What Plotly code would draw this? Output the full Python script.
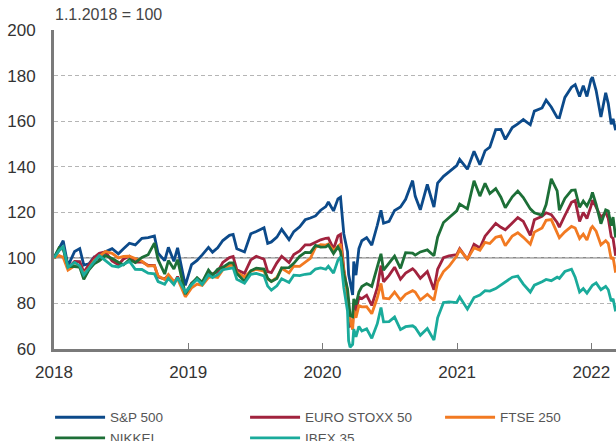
import plotly.graph_objects as go

DATES = [
    "2018-01-01", "2018-01-15", "2018-01-26", "2018-02-08", "2018-02-26", "2018-03-12", "2018-03-23",
    "2018-04-06", "2018-04-20", "2018-05-04", "2018-05-21", "2018-06-08", "2018-06-25", "2018-07-09",
    "2018-07-25", "2018-08-10", "2018-08-28", "2018-09-14", "2018-10-01", "2018-10-11", "2018-10-29",
    "2018-11-08", "2018-11-23", "2018-12-03", "2018-12-24",
    "2019-01-10", "2019-01-25", "2019-02-08", "2019-02-25", "2019-03-08", "2019-03-22", "2019-04-05",
    "2019-04-23", "2019-05-03", "2019-05-13", "2019-06-03", "2019-06-20", "2019-07-05", "2019-07-26",
    "2019-08-05", "2019-08-15", "2019-08-30", "2019-09-12", "2019-10-02", "2019-10-15", "2019-10-31",
    "2019-11-15", "2019-11-29", "2019-12-13", "2019-12-27",
    "2020-01-10", "2020-01-17", "2020-01-31", "2020-02-12", "2020-02-19", "2020-02-28", "2020-03-09",
    "2020-03-12", "2020-03-16", "2020-03-23", "2020-03-26", "2020-04-01", "2020-04-09", "2020-04-17",
    "2020-04-30", "2020-05-14", "2020-05-29", "2020-06-08", "2020-06-15", "2020-06-30", "2020-07-15",
    "2020-07-31", "2020-08-14", "2020-09-02", "2020-09-09", "2020-09-23", "2020-10-12", "2020-10-30",
    "2020-11-09", "2020-11-25", "2020-12-10", "2020-12-31",
    "2021-01-08", "2021-01-29", "2021-02-16", "2021-03-04", "2021-03-18", "2021-03-31", "2021-04-16",
    "2021-04-30", "2021-05-12", "2021-05-31", "2021-06-15", "2021-06-30", "2021-07-19", "2021-07-30",
    "2021-08-20", "2021-08-31", "2021-09-14", "2021-09-30", "2021-10-06", "2021-10-21", "2021-11-08",
    "2021-11-18", "2021-11-30", "2021-12-10", "2021-12-20", "2021-12-31",
    "2022-01-04", "2022-01-14", "2022-01-27", "2022-02-09", "2022-02-16", "2022-02-24", "2022-03-01",
    "2022-03-08",
]

SP500 = [
    100, 104.2, 107.5, 96.5, 102.8, 104.1, 96.8, 97.4, 100.3, 99.6, 102.7, 104.0, 101.8, 104.0, 106.4,
    105.7, 108.6, 108.9, 109.6, 102.0, 98.8, 104.6, 98.5, 104.4, 87.9,
    97.0, 98.9, 101.3, 104.6, 102.5, 104.4, 107.6, 109.9, 110.3, 104.0, 102.6, 110.6, 111.6, 113.2,
    106.4, 107.0, 109.1, 112.5, 108.0, 111.5, 113.6, 116.7, 117.5, 118.4, 120.9,
    122.5, 124.5, 120.6, 125.9, 126.6, 110.5, 102.7, 92.8, 89.2, 83.7, 98.4, 92.4, 104.1, 107.5, 108.9,
    105.6, 114.3, 120.9, 115.2, 116.0, 120.8, 122.3, 125.7, 133.9, 127.1, 121.1, 132.2, 122.3, 132.8,
    135.8, 137.7, 140.5,
    143.2, 138.9, 146.8, 140.9, 147.0, 148.6, 156.3, 156.4, 152.0, 157.2, 158.8, 160.7, 158.4, 164.4,
    165.8, 169.2, 166.2, 161.6, 161.5, 170.4, 174.9, 176.0, 170.8, 175.6, 170.8, 178.3,
    179.3, 173.4, 161.8, 172.4, 167.7, 158.6, 161.0, 156.0,
]

EUROSTOXX50 = [
    100, 103.4, 104.5, 95.5, 98.4, 98.3, 93.8, 97.0, 100.2, 102.0, 102.6, 98.6, 97.0, 99.5, 100.7,
    98.2, 98.3, 96.7, 96.7, 91.6, 90.7, 92.4, 88.6, 91.8, 84.2,
    88.9, 90.8, 88.8, 93.1, 93.0, 93.9, 98.0, 100.1, 100.6, 94.8, 93.2, 99.1, 100.7, 99.4,
    94.0, 93.5, 97.8, 100.7, 97.9, 101.5, 103.0, 105.7, 105.7, 106.9, 107.9,
    108.6, 108.7, 103.9, 109.6, 110.3, 95.0, 84.5, 72.7, 70.1, 70.9, 79.9, 76.5, 82.7, 82.1, 83.6,
    79.1, 86.9, 96.6, 89.5, 92.3, 95.9, 90.6, 93.3, 95.2, 94.2, 91.0, 94.0, 86.0, 95.0,
    100.1, 100.9, 101.4,
    104.0, 99.3, 105.9, 104.3, 109.5, 111.8, 115.1, 113.4, 112.3, 115.3, 117.7, 116.0, 109.9, 116.7,
    118.2, 119.8, 119.0, 115.5, 113.5, 118.6, 124.4, 125.2, 116.0, 119.9, 117.3, 122.7,
    125.3, 122.3, 117.8, 119.9, 117.3, 109.3, 108.5, 100.9,
]

FTSE250 = [
    100, 101.0, 100.2, 94.6, 96.5, 95.9, 93.0, 95.4, 98.8, 100.7, 102.8, 102.0, 100.0, 100.6, 100.7,
    99.7, 98.5, 96.4, 96.6, 92.1, 90.5, 92.7, 89.7, 90.8, 82.9,
    86.8, 88.5, 87.9, 91.3, 91.8, 91.4, 94.8, 96.6, 97.0, 93.7, 91.6, 94.2, 94.9, 94.2,
    90.7, 89.7, 91.4, 95.4, 93.4, 96.4, 96.3, 98.0, 99.8, 104.6, 105.8,
    105.6, 106.1, 103.3, 105.3, 106.1, 94.4, 84.0, 75.3, 72.8, 68.5, 77.0, 73.7, 79.0, 78.5, 78.6,
    75.5, 82.5, 88.8, 82.3, 82.0, 85.0, 81.5, 84.0, 85.6, 85.0, 81.5, 84.0, 81.4, 89.4,
    94.0, 96.3, 100.8,
    103.6, 99.5, 104.4, 103.3, 106.8, 106.3, 109.0, 109.6, 105.3, 109.6, 111.0, 109.0, 106.0, 111.3,
    113.1, 116.5, 116.8, 110.8, 108.8, 111.4, 113.8, 113.1, 108.5, 110.4, 107.8, 113.0,
    113.8, 111.7, 105.7, 107.5, 106.3, 99.5, 100.3, 93.5,
]

NIKKEI = [
    100, 104.5, 103.9, 96.2, 96.2, 95.9, 90.6, 94.7, 97.4, 98.7, 101.0, 99.7, 98.1, 96.9, 99.3,
    97.9, 100.2, 101.4, 106.5, 99.2, 92.9, 98.8, 95.1, 99.2, 84.1,
    88.6, 91.3, 89.3, 94.6, 92.4, 95.0, 95.8, 97.8, 97.8, 93.1, 89.7, 94.3, 95.5, 95.1,
    91.0, 89.6, 90.9, 95.6, 95.7, 97.6, 100.7, 102.4, 102.3, 105.5, 104.7,
    104.8, 105.6, 101.9, 104.8, 102.8, 92.9, 86.5, 81.6, 74.7, 74.2, 82.0, 79.4, 85.0, 87.4, 88.7,
    87.5, 96.1, 101.8, 94.6, 97.9, 100.8, 95.4, 102.3, 102.1, 101.2, 102.6, 103.5, 100.9, 109.1,
    115.5, 117.5, 120.6,
    123.6, 121.5, 133.8, 127.1, 132.7, 128.2, 130.4, 126.6, 122.0, 126.8, 129.3, 126.5, 121.5, 119.8,
    118.7, 123.4, 134.7, 129.4, 120.9, 126.1, 129.6, 129.8, 122.2, 124.9, 122.7, 126.5,
    128.7, 123.5, 115.0, 121.1, 120.6, 114.1, 117.9, 108.9,
]

IBEX35 = [
    100, 103.3, 104.9, 95.8, 98.0, 96.5, 92.5, 95.6, 98.3, 101.0, 99.0, 96.5, 96.0, 97.0, 98.5,
    95.0, 94.9, 93.3, 93.0, 89.6, 88.4, 91.0, 88.3, 91.3, 84.9,
    88.2, 90.6, 88.3, 92.6, 91.3, 92.6, 94.8, 95.3, 95.6, 90.6, 88.9, 92.8, 93.2, 92.1,
    87.6, 85.8, 87.7, 90.8, 89.2, 92.4, 92.2, 92.8, 93.1, 95.1, 95.6,
    95.0, 96.3, 93.3, 99.0, 100.4, 86.8, 76.7, 63.6, 60.8, 62.0, 68.7, 65.3, 69.9, 67.9, 68.9,
    64.7, 71.1, 78.2, 71.9, 72.0, 74.0, 68.5, 69.8, 70.2, 69.4, 66.0, 69.0, 63.9, 73.7,
    80.4, 80.7, 80.4,
    82.8, 77.5, 82.6, 83.7, 85.6, 85.4, 86.5, 88.0, 89.2, 91.5, 92.0, 88.5, 85.0, 88.0,
    89.5, 90.5, 90.0, 91.5, 91.0, 94.0, 95.0, 91.5, 85.0, 86.5, 84.5, 87.5,
    88.0, 89.0, 86.0, 87.5, 86.0, 81.0, 82.0, 76.5,
]

SERIES = [
    ("S&P 500", SP500, "#0c4a8a"),
    ("EURO STOXX 50", EUROSTOXX50, "#a1233e"),
    ("FTSE 250", FTSE250, "#f27a22"),
    ("NIKKEI", NIKKEI, "#1d6f37"),
    ("IBEX 35", IBEX35, "#1aab9b"),
]

Y_TICKS = [60, 80, 100, 120, 140, 160, 180, 200]
X_TICKS = ["2018-01-01", "2019-01-01", "2020-01-01", "2021-01-01", "2022-01-01"]
X_LABELS = ["2018", "2019", "2020", "2021", "2022"]
SUBTITLE = "1.1.2018 = 100"

for name, vals, _ in SERIES:
    if len(vals) != len(DATES):
        raise ValueError(f"{name}: {len(vals)} values vs {len(DATES)} dates")

fig = go.Figure()
for name, vals, color in SERIES:
    fig.add_trace(go.Scatter(
        x=DATES, y=vals, name=name, mode="lines",
        line=dict(color=color, width=2.8),
    ))

fig.add_shape(type="line", xref="paper", x0=0, x1=1, yref="y", y0=100, y1=100,
              line=dict(color="#8a8a8a", width=1.5), layer="below")

fig.add_annotation(text=SUBTITLE, xref="paper", yref="paper", x=0, y=1,
                   xanchor="left", yanchor="bottom", yshift=5, xshift=-1, showarrow=False,
                   font=dict(family="Liberation Sans, Arial, sans-serif", size=16, color="#444444"))

fig.update_layout(
    width=616, height=441,
    margin=dict(l=54, r=0, t=30, b=92, autoexpand=False),
    paper_bgcolor="white", plot_bgcolor="white",
    font=dict(family="Liberation Sans, Arial, sans-serif", size=17, color="#333333"),
    showlegend=True,
    legend=dict(
        orientation="h", x=-0.007, xanchor="left", y=-0.166, yanchor="top",
        entrywidth=130, entrywidthmode="pixels", itemwidth=50,
        font=dict(family="Liberation Sans, Arial, sans-serif", size=13.5, color="#555555"),
        bgcolor="rgba(0,0,0,0)", tracegroupgap=0,
    ),
    xaxis=dict(
        type="date", range=["2018-01-01", "2022-03-09"],
        tickmode="array", tickvals=X_TICKS, ticktext=X_LABELS,
        showgrid=False, zeroline=False,
        showline=True, linecolor="#7a7a7a", linewidth=3,
        ticks="inside", ticklen=6, tickwidth=1, tickcolor="#7a7a7a",
        ticklabelstandoff=6,
        tickfont=dict(size=17, color="#333333"),
    ),
    yaxis=dict(
        range=[60, 200], tickmode="array", tickvals=Y_TICKS,
        showgrid=True, gridcolor="#b5b5b5", gridwidth=1, griddash="4px,3px",
        zeroline=False,
        showline=True, linecolor="#7a7a7a", linewidth=3,
        ticks="", ticklabelstandoff=12,
        tickfont=dict(size=17, color="#333333"),
    ),
)

fig.write_html("out.html", config={"displayModeBar": False},
               post_script="document.body.style.margin='0px';")
